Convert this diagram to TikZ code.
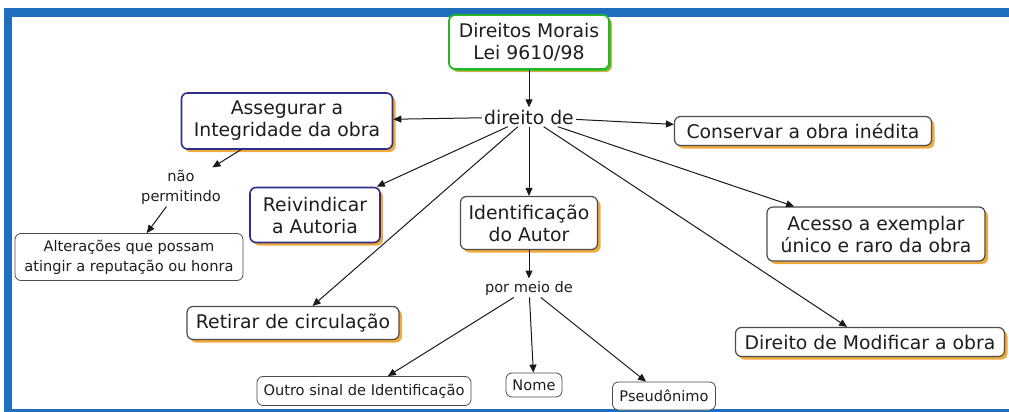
\documentclass[tikz,border=0pt]{standalone}
\usepackage{fontspec}
\setmainfont{DejaVu Sans}
\usetikzlibrary{shadows,arrows.meta}
\definecolor{frameblue}{RGB}{31,111,190}
\definecolor{shadeorange}{RGB}{240,170,60}
\definecolor{shadegreen}{RGB}{60,200,60}
\definecolor{bordergreen}{RGB}{40,180,40}
\definecolor{bordernavy}{RGB}{45,45,140}
\definecolor{inkgray}{RGB}{30,30,30}
\begin{document}
\begin{tikzpicture}[x=0.5pt, y=-0.5pt,
    concept/.style = {draw=gray!60!black, line width=0.6pt, rounded corners=3pt, fill=white, align=center,
        text=inkgray, font=\fontsize{9.4}{11}\selectfont, inner xsep=3pt, inner ysep=2pt,
        drop shadow={shadow xshift=1.5pt, shadow yshift=-1.5pt, fill=shadeorange, opacity=1}},
    leaf/.style = {draw=gray!60!black, rounded corners=3pt, fill=white, align=center,
        text=inkgray, font=\fontsize{7.3}{10}\selectfont, inner xsep=3pt, inner ysep=2pt},
    phrase/.style = {align=center, text=inkgray, font=\fontsize{7.3}{10}\selectfont, inner sep=1pt},
    link/.style = {draw=gray!20!black, line width=0.5pt, -{Triangle[length=4pt,width=3.5pt]}}]
  \useasboundingbox (0,0) rectangle (1009,412);
  % frame
  \fill[frameblue] (5,8) rectangle (1009,17);
  \fill[frameblue] (4,8) rectangle (12,412);
  \fill[frameblue] (4,409) rectangle (1009,412);
  % concepts
  \node[concept, draw=bordergreen, line width=0.9pt, minimum width=80pt, minimum height=27pt,
        drop shadow={shadow xshift=1pt, shadow yshift=-1pt, fill=shadegreen, opacity=1}] (morais) at (529,42) {Direitos Morais\\Lei 9610/98};
  \node[inner sep=1pt, text=inkgray, font=\fontsize{9.4}{11}\selectfont] (dir) at (529,117) {direito de};
  \node[concept, draw=bordernavy, line width=0.8pt, minimum width=105.5pt, minimum height=28pt] (asseg) at (287,121) {Assegurar a\\Integridade da obra};
  \node[concept, minimum width=128.5pt, minimum height=14.5pt] (conserv) at (803,131) {Conservar a obra inédita};
  \node[phrase] (naop) at (181,187) {não\\permitindo};
  \node[leaf, minimum width=114pt, minimum height=23.5pt] (alter) at (129,257) {Alterações que possam\\atingir a reputação ou honra};
  \node[concept, draw=bordernavy, line width=0.8pt, minimum width=65pt, minimum height=27.5pt] (reiv) at (315,215) {Reivindicar\\a Autoria};
  \node[concept, minimum width=68.5pt, minimum height=26.5pt] (ident) at (529,223) {Identificação\\do Autor};
  \node[concept, minimum width=109pt, minimum height=27pt] (acesso) at (876,234) {Acesso a exemplar\\único e raro da obra};
  \node[concept, minimum width=106pt, minimum height=16.5pt] (retirar) at (293,323) {Retirar de circulação};
  \node[phrase] (meio) at (529,288) {por meio de};
  \node[concept, minimum width=134.5pt, minimum height=14.5pt] (modif) at (870,342) {Direito de Modificar a obra};
  \node[leaf, minimum width=107pt, minimum height=14.5pt] (outro) at (364,391) {Outro sinal de Identificação};
  \node[leaf, minimum width=28pt, minimum height=12pt] (nome) at (534,385) {Nome};
  \node[leaf, minimum width=51.5pt, minimum height=14pt] (pseud) at (664,396) {Pseudônimo};
  % links
  \draw[link] (morais) -- (dir);
  \draw[link] (dir) -- (asseg);
  \draw[link] (dir) -- (conserv);
  \draw[link] (dir) -- (reiv);
  \draw[link] (dir) -- (ident);
  \draw[link] (dir) -- (acesso);
  \draw[link] (dir) -- (retirar);
  \draw[link] (dir) -- (modif);
  \draw[link] (asseg) -- (naop);
  \draw[link] (naop) -- (alter);
  \draw[link] (ident) -- (meio);
  \draw[link] (meio) -- (outro);
  \draw[link] (meio) -- (nome);
  \draw[link] (meio) -- (pseud);
\end{tikzpicture}
\end{document}
